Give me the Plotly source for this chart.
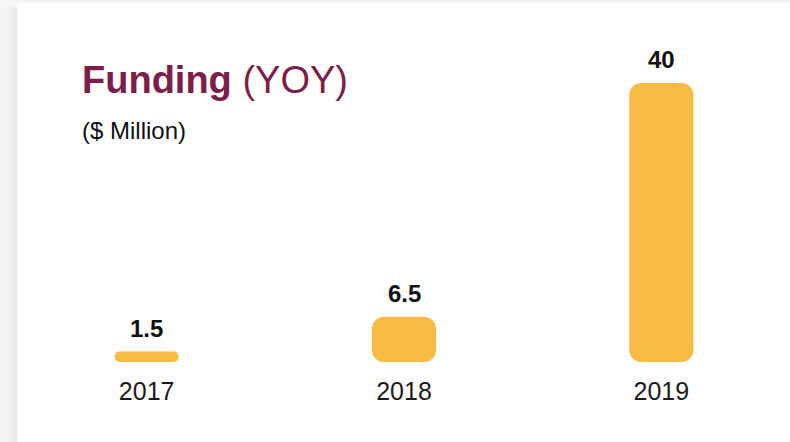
import plotly.graph_objects as go

years = ["2017", "2018", "2019"]
funding = [1.5, 6.5, 40]
value_labels = ["1.5", "6.5", "40"]

BAR_COLOR = "#F8BC45"
TITLE_COLOR = "#7D1D4A"
FONT = "Liberation Sans, Arial, sans-serif"

W, H = 790, 442
ML, MR, MT, MB = 18, 0, 0, 80
PW, PH = W - ML - MR, H - MT - MB


def px2x(px):
    return (px - ML) / PW


def px2y(py):
    return (H - MB - py) / PH


fig = go.Figure()
fig.add_trace(go.Bar(
    x=years, y=funding, base=[0] * len(funding),
    marker=dict(color=BAR_COLOR, line=dict(width=0)),
    width=0.249, hoverinfo="skip",
))

annotations = []
for i, (v, lab) in enumerate(zip(funding, value_labels)):
    annotations.append(dict(
        x=i, y=v, xref="x", yref="y", text=lab, showarrow=False,
        yanchor="bottom", xanchor="center", yshift=8,
        font=dict(family=FONT, size=24, color="#111111", weight="bold"),
    ))

annotations.append(dict(
    xref="paper", yref="paper", x=px2x(80), y=px2y(80),
    xanchor="left", yanchor="middle", showarrow=False,
    text="<b>Funding</b> (YOY)",
    font=dict(family=FONT, size=38, color=TITLE_COLOR),
))
annotations.append(dict(
    xref="paper", yref="paper", x=px2x(80), y=px2y(130),
    xanchor="left", yanchor="middle", showarrow=False,
    text="($ Million)",
    font=dict(family=FONT, size=24, color="#111111"),
))

shapes = [
    # white card
    dict(type="rect", xref="paper", yref="paper", x0=px2x(17), x1=px2x(W + 5),
         y0=px2y(3), y1=px2y(H + 5), fillcolor="white", line=dict(width=0), layer="below"),
]
# soft shadow at left edge of card
shadow_cols = ["#f6f6f6", "#f3f3f3", "#f0f0f0", "#ededed", "#ebebeb", "#e9e9e9"]
for i, c in enumerate(shadow_cols):
    x0 = 5 + i * 2
    shapes.append(dict(type="rect", xref="paper", yref="paper", x0=px2x(x0), x1=px2x(x0 + 2 if i < 5 else 17),
                       y0=px2y(3 + i), y1=px2y(H + 5), fillcolor=c, line=dict(width=0), layer="below"))

fig.update_layout(
    width=W, height=H,
    margin=dict(l=ML, r=MR, t=MT, b=MB, pad=0),
    paper_bgcolor="#f5f5f5", plot_bgcolor="rgba(0,0,0,0)",
    barcornerradius=12,
    showlegend=False,
    annotations=annotations, shapes=shapes,
    xaxis=dict(type="category", range=[-0.5, 2.5], showgrid=False, zeroline=False,
               showline=False, ticks="", ticklabelstandoff=12,
               tickfont=dict(family=FONT, size=25, color="#1a1a1a"), fixedrange=True),
    yaxis=dict(range=[0, PH / 6.975], showgrid=False, zeroline=False, showline=False,
               showticklabels=False, ticks="", fixedrange=True),
)

fig.write_html("out.html", config={"displayModeBar": False},
               post_script="document.body.style.margin='0';")
